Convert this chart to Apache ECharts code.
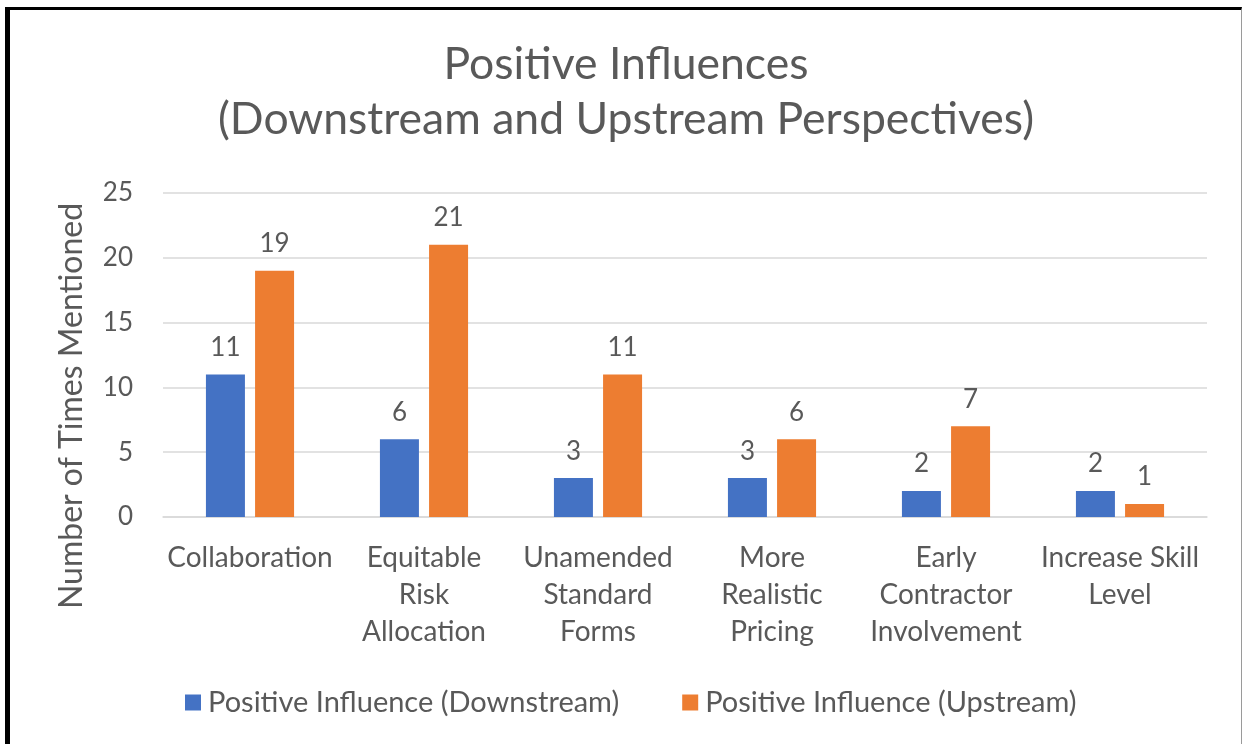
<!DOCTYPE html>
<html>
<head>
<meta charset="utf-8">
<script src="https://cdn.jsdelivr.net/npm/echarts@6/dist/echarts.min.js"></script>
<style>
html,body{margin:0;padding:0;background:#fff;}
#chart{position:absolute;left:0;top:0;width:1243px;height:744px;}
#frame{position:absolute;left:5px;top:7px;width:1231px;height:760px;border-left:5px solid #000;border-top:3px solid #000;border-right:1px solid #9a9a9a;pointer-events:none;}
</style>
</head>
<body>
<div id="chart"></div>
<div id="frame"></div>
<script>
const categories = [
  'Collaboration',
  'Equitable\nRisk\nAllocation',
  'Unamended\nStandard\nForms',
  'More\nRealistic\nPricing',
  'Early\nContractor\nInvolvement',
  'Increase Skill\nLevel'
];
const downstream = [11, 6, 3, 3, 2, 2];
const upstream = [19, 21, 11, 6, 7, 1];
const seriesNames = ['Positive Influence (Downstream)', 'Positive Influence (Upstream)'];
const yTicks = [0, 5, 10, 15, 20, 25];

const FONT = 'Lato';
const TXT = '#595959';

const chart = echarts.init(document.getElementById('chart'), null, {renderer: 'canvas'});
chart.setOption({
  backgroundColor: '#ffffff',
  animation: false,
  title: {
    text: 'Positive Influences\n(Downstream and Upstream Perspectives)',
    left: 621,
    textAlign: 'center',
    top: 32,
    textStyle: {fontFamily: FONT, fontSize: 44.5, fontWeight: 'normal', color: TXT, lineHeight: 55}
  },
  legend: {
    bottom: 22,
    left: 180,
    itemWidth: 16,
    itemHeight: 16,
    itemGap: 63,
    icon: 'rect',
    textStyle: {fontFamily: FONT, fontSize: 29, color: TXT, padding: [0, 0, 0, 2]},
    data: seriesNames
  },
  grid: {left: 163, right: 36, top: 193, bottom: 227, containLabel: false},
  xAxis: {
    type: 'category',
    data: categories,
    axisLine: {show: true, lineStyle: {color: '#d9d9d9', width: 1.5}},
    axisTick: {show: false},
    axisLabel: {fontFamily: FONT, fontSize: 28, color: TXT, lineHeight: 37, margin: 22, interval: 0}
  },
  yAxis: {
    type: 'value',
    min: yTicks[0],
    max: yTicks[yTicks.length - 1],
    interval: yTicks[1] - yTicks[0],
    name: 'Number of Times Mentioned',
    nameLocation: 'middle',
    nameGap: 75,
    nameTextStyle: {fontFamily: FONT, fontSize: 32, color: TXT, padding: [0, 102, 0, 0]},
    axisLine: {show: false},
    axisTick: {show: false},
    splitLine: {lineStyle: {color: '#d9d9d9', width: 1.5}},
    axisLabel: {fontFamily: FONT, fontSize: 26, color: TXT, margin: 30}
  },
  series: [
    {
      name: seriesNames[0],
      type: 'bar',
      data: downstream,
      barWidth: 39,
      barGap: '26%',
      itemStyle: {color: '#4472C4'},
      label: {show: true, position: 'top', distance: 14, fontFamily: FONT, fontSize: 26, color: TXT}
    },
    {
      name: seriesNames[1],
      type: 'bar',
      data: upstream,
      barWidth: 39,
      barGap: '26%',
      itemStyle: {color: '#ED7D31'},
      label: {show: true, position: 'top', distance: 14, fontFamily: FONT, fontSize: 26, color: TXT}
    }
  ]
});
</script>
</body>
</html>
